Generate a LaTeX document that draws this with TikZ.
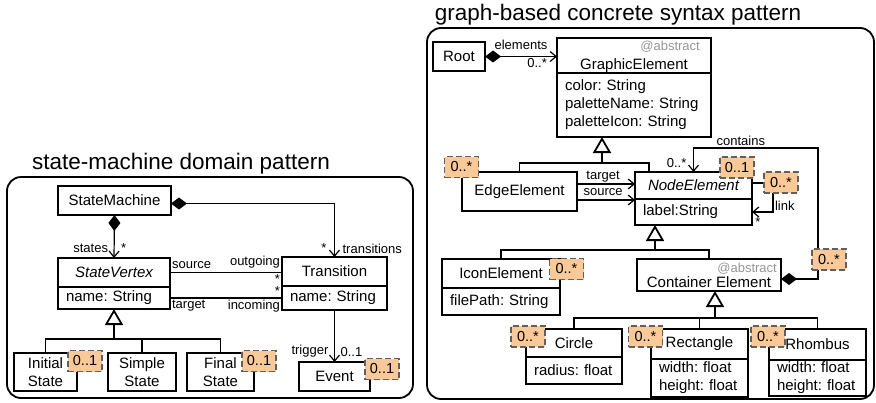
\documentclass[tikz,border=0pt]{standalone}
\usepackage{fontspec}
\setmainfont{Liberation Sans}
\usepackage{xcolor}
\usepackage{tikz}
\usetikzlibrary{arrows.meta}
\usetikzlibrary{positioning, calc}

\definecolor{tagfill}{RGB}{250,201,152}
\definecolor{tagline}{RGB}{96,96,96}
\definecolor{absgray}{RGB}{150,150,150}

\begin{document}
\frenchspacing
\begin{tikzpicture}[x=1pt,y=-1pt,
    cls/.style={draw,line width=1.8pt,inner sep=0pt,outer sep=0pt,align=center,
                font=\fontsize{15}{18}\selectfont\frenchspacing},
    attr/.style={cls,align=left,inner xsep=8pt},
    tag/.style={draw=tagline,fill=tagfill,line width=1.8pt,dash pattern=on 6pt off 3pt,
                minimum width=34pt,minimum height=21pt,inner sep=0pt,
                font=\fontsize{14.5}{16}\selectfont},
    lbl/.style={font=\fontsize{13}{15}\selectfont,inner sep=1.5pt},
    abs/.style={text=absgray,font=\fontsize{13}{15}\selectfont,inner sep=2pt,anchor=north east},
    frame/.style={line width=1.8pt,rounded corners=14pt},
    title/.style={font=\fontsize{22.5}{26}\selectfont,anchor=base},
    assoc/.style={line width=1.2pt},
    nav/.style={assoc,-{Straight Barb[length=6pt,width=10pt]}},
    comp/.style={assoc,{Diamond[length=16pt,width=12pt]}-{Straight Barb[length=6pt,width=10pt]}},
    genbar/.style={line width=1.8pt},
    gen/.style={line width=1.8pt,-{Triangle[open,length=16pt,width=18pt]}}]

  \useasboundingbox (0,0) rectangle (876,402);

  % state-machine domain pattern
  \node[title] (title1) at (181,169) {state-machine domain pattern};
  \draw[frame] (7,177) rectangle (413,398);

  \node[cls,minimum width=113pt,minimum height=29pt] (sm) at (114.5,200.5) {StateMachine};
  \node[cls,minimum width=112pt,minimum height=29pt] (sv) at (114,272.5) {\itshape StateVertex};
  \node[attr,text width=96pt,minimum height=22pt,below=0pt of sv] (sva) {name: String};
  \node[cls,minimum width=105pt,minimum height=29pt] (tr) at (334.5,271.5) {Transition};
  \node[attr,text width=89pt,minimum height=24pt,below=0pt of tr] (tra) {name: String};
  \node[cls,minimum width=63pt,minimum height=38pt] (init) at (45.5,372) {Initial\\State};
  \node[cls,minimum width=68pt,minimum height=38pt] (simple) at (142,372) {Simple\\State};
  \node[cls,minimum width=67pt,minimum height=38pt] (final) at (220.5,372) {Final\\State};
  \node[cls,minimum width=71pt,minimum height=29pt] (ev) at (334.5,376.5) {Event};

  \draw[comp] (sm.south) -- (sv.north)
    node[lbl,pos=0.77,left=4pt] {states} node[lbl,pos=0.77,right=5pt] {*};
  \draw[comp] ([yshift=-3pt]sm.east) -| (tr.north)
    node[lbl,pos=0.92,left=6pt] {*} node[lbl,pos=0.92,right=6pt] {transitions};
  \draw[assoc] (sv.east) -- (sv.east -| tr.west)
    node[lbl,pos=0,anchor=south west,yshift=2pt] {source}
    node[lbl,pos=1,anchor=south east,yshift=2pt] {outgoing}
    node[lbl,pos=1,anchor=north east] {*};
  \draw[assoc] (sva.east) -- (sva.east -| tra.west)
    node[lbl,pos=0,anchor=north west] {target}
    node[lbl,pos=1,anchor=north east] {incoming}
    node[lbl,pos=1,anchor=south east] {*};
  \draw[nav] (tra.south) -- (ev.north)
    node[lbl,pos=0.8,left=4pt] {trigger} node[lbl,pos=0.8,right=4pt] {0..1};

  \coordinate (g1) at ($(sva.south)+(0,30)$);
  \draw[genbar] (init.north) |- (g1) -| (final.north);
  \draw[genbar] (simple.north) -- (simple.north |- g1);
  \draw[gen] (g1) -- (sva.south);

  \node[tag] (t1) at (85,361) {0..1};
  \node[tag] (t2) at (259,361) {0..1};
  \node[tag] (t3) at (382,369) {0..1};

  % graph-based concrete syntax pattern
  \node[title] (title2) at (618,20) {graph-based concrete syntax pattern};
  \draw[frame] (427,28) rectangle (874,399);

  \node[cls,minimum width=52pt,minimum height=29pt] (root) at (459,56.5) {Root};
  \node[cls,minimum width=154pt,minimum height=35pt,text height=28pt,text depth=0pt] (ge) at (634,55.5) {GraphicElement};
  \node[abs] (geabs) at ([xshift=-9pt,yshift=-1pt]ge.north east) {@abstract};
  \node[attr,text width=138pt,minimum height=64pt,below=0pt of ge] (gea) {color: String\\paletteName: String\\paletteIcon: String};
  \node[cls,minimum width=115pt,minimum height=39pt] (ee) at (519.5,191.5) {EdgeElement};
  \node[cls,minimum width=117pt,minimum height=27pt] (ne) at (693.5,185.5) {\itshape NodeElement};
  \node[attr,text width=101pt,minimum height=26pt,below=0pt of ne] (nea) {label:String};
  \node[cls,minimum width=118pt,minimum height=29pt] (ie) at (501,273.5) {IconElement};
  \node[attr,text width=102pt,minimum height=27pt,below=0pt of ie] (iea) {filePath: String};
  \node[cls,minimum width=144pt,minimum height=32pt,text height=25pt,text depth=0pt] (ce) at (709,275) {Container Element};
  \node[abs] (ceabs) at ([xshift=-2pt,yshift=-2pt]ce.north east) {@abstract};
  \node[cls,minimum width=96pt,minimum height=28pt] (circ) at (574,343) {Circle};
  \node[attr,text width=80pt,minimum height=27pt,below=0pt of circ] (circa) {radius: float};
  \node[cls,minimum width=97pt,minimum height=30pt] (rect) at (699.5,344) {Rectangle};
  \node[attr,text width=81pt,minimum height=38pt,below=0pt of rect] (recta) {width: float\\height: float};
  \node[cls,minimum width=97pt,minimum height=31pt] (rhomb) at (817.5,344.5) {Rhombus};
  \node[attr,text width=81pt,minimum height=36pt,below=0pt of rhomb] (rhomba) {width: float\\height: float};

  \draw[comp] (root.east) -- (root.east -| ge.west)
    node[lbl,pos=0.5,above=5pt] {elements} node[lbl,pos=1,anchor=north east,xshift=-8pt] {0..*};
  \coordinate (etgt) at ([yshift=7.5pt]ee.east);
  \coordinate (esrc) at ([yshift=-8.5pt]ee.east);
  \draw[nav] (etgt) -- (etgt -| ne.west) node[lbl,pos=0.45,above] {target};
  \draw[nav] (esrc) -- (esrc -| ne.west) node[lbl,pos=0.45,above=2pt] {source};
  \draw[nav] ([yshift=2.5pt]ne.east) -- ++(21,0) |- (nea.east)
    node[lbl,pos=0.4,right] {link} node[lbl,pos=0.86,below=3pt] {*};
  \coordinate (cbend) at (818,148);
  \draw[comp] ([yshift=-4pt]ce.east) -| (cbend) -| (ne.north)
    node[lbl,pos=0.31,above] {contains} node[lbl,pos=0.81,left=5pt] {0..*};

  \coordinate (g2) at (602,163);
  \draw[genbar] (ee.north) |- (g2) -| ([xshift=14pt]ne.north west);
  \draw[gen] (g2) -- (g2 |- gea.south);
  \coordinate (g3) at (655,250);
  \draw[genbar] (ie.north) |- (g3) -| (ce.north);
  \draw[gen] (g3) -- (g3 |- nea.south);
  \coordinate (g4) at (715,318);
  \draw[genbar] (circ.north) |- (g4) -| (rhomb.north);
  \draw[genbar] (rect.north) -- (rect.north |- g4);
  \draw[gen] (g4) -- (g4 |- ce.south);

  \node[tag] (tee) at (461.5,167) {0..*};
  \node[tag] (tne) at (737,167.5) {0..1};
  \node[tag] (tlink) at (781,182.5) {0..*};
  \node[tag] (tcont) at (829,259.5) {0..*};
  \node[tag] (tie) at (566.5,269) {0..*};
  \node[tag] (tcirc) at (528,336.5) {0..*};
  \node[tag] (trect) at (645.5,336.5) {0..*};
  \node[tag] (trhomb) at (768,336.5) {0..*};

\end{tikzpicture}
\end{document}
